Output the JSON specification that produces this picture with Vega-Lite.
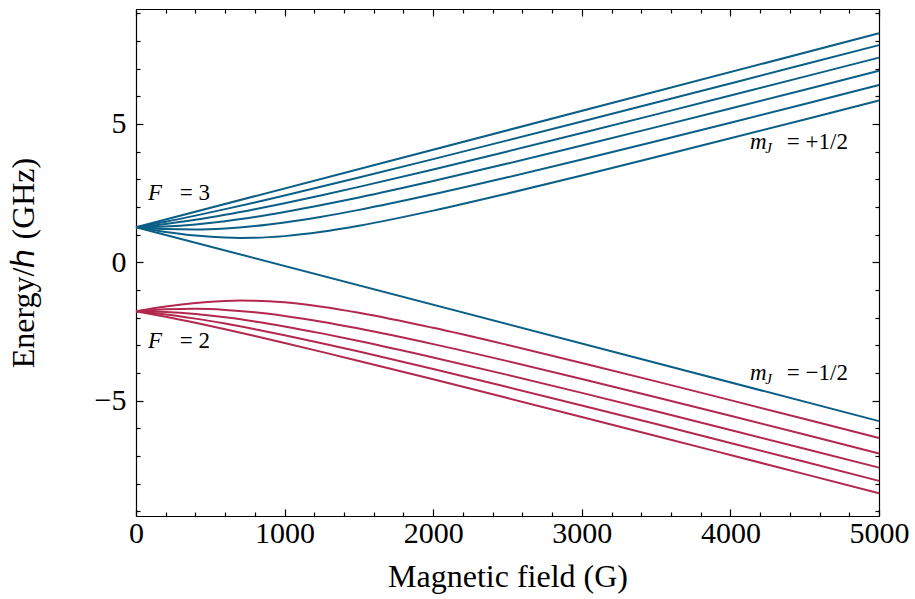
{
  "$schema": "https://vega.github.io/schema/vega-lite/v6.json",
  "width": 743,
  "height": 507,
  "autosize": {"type": "none"},
  "padding": {"left": 136, "top": 9, "right": 36, "bottom": 83},
  "background": "white",
  "config": {
    "view": {"stroke": null},
    "axis": {
      "grid": false,
      "domainColor": "black",
      "domainWidth": 1.2,
      "tickColor": "black",
      "tickWidth": 1.2,
      "labelColor": "black",
      "titleColor": "black",
      "labelFont": "Liberation Serif",
      "titleFont": "Liberation Serif",
      "labelFontSize": 30,
      "titleFontSize": 32,
      "titleFontWeight": "normal",
      "labelFlush": false,
      "labelOverlap": false,
      "format": "d"
    },
    "text": {"font": "Liberation Serif", "fontSize": 23, "color": "black", "align": "left", "baseline": "alphabetic"}
  },
  "datasets": {
    "curves": [
      {"s": "F3+3", "F": "F3", "B": 0, "E": 1.265}, {"s": "F3+3", "F": "F3", "B": 5000, "E": 8.271},
      {"s": "F3+2", "F": "F3", "B": 0, "E": 1.265}, {"s": "F3+2", "F": "F3", "B": 200, "E": 1.464}, {"s": "F3+2", "F": "F3", "B": 400, "E": 1.684}, {"s": "F3+2", "F": "F3", "B": 600, "E": 1.918}, {"s": "F3+2", "F": "F3", "B": 800, "E": 2.161}, {"s": "F3+2", "F": "F3", "B": 1000, "E": 2.412}, {"s": "F3+2", "F": "F3", "B": 1250, "E": 2.733}, {"s": "F3+2", "F": "F3", "B": 1500, "E": 3.060}, {"s": "F3+2", "F": "F3", "B": 2000, "E": 3.726}, {"s": "F3+2", "F": "F3", "B": 2500, "E": 4.402}, {"s": "F3+2", "F": "F3", "B": 3000, "E": 5.084}, {"s": "F3+2", "F": "F3", "B": 3500, "E": 5.770}, {"s": "F3+2", "F": "F3", "B": 4000, "E": 6.460}, {"s": "F3+2", "F": "F3", "B": 4500, "E": 7.151}, {"s": "F3+2", "F": "F3", "B": 5000, "E": 7.844},
      {"s": "F3+1", "F": "F3", "B": 0, "E": 1.265}, {"s": "F3+1", "F": "F3", "B": 200, "E": 1.380}, {"s": "F3+1", "F": "F3", "B": 400, "E": 1.532}, {"s": "F3+1", "F": "F3", "B": 600, "E": 1.712}, {"s": "F3+1", "F": "F3", "B": 800, "E": 1.914}, {"s": "F3+1", "F": "F3", "B": 1000, "E": 2.131}, {"s": "F3+1", "F": "F3", "B": 1250, "E": 2.420}, {"s": "F3+1", "F": "F3", "B": 1500, "E": 2.722}, {"s": "F3+1", "F": "F3", "B": 2000, "E": 3.352}, {"s": "F3+1", "F": "F3", "B": 2500, "E": 4.004}, {"s": "F3+1", "F": "F3", "B": 3000, "E": 4.669}, {"s": "F3+1", "F": "F3", "B": 3500, "E": 5.343}, {"s": "F3+1", "F": "F3", "B": 4000, "E": 6.023}, {"s": "F3+1", "F": "F3", "B": 4500, "E": 6.707}, {"s": "F3+1", "F": "F3", "B": 5000, "E": 7.394},
      {"s": "F3+0", "F": "F3", "B": 0, "E": 1.265}, {"s": "F3+0", "F": "F3", "B": 200, "E": 1.291}, {"s": "F3+0", "F": "F3", "B": 400, "E": 1.365}, {"s": "F3+0", "F": "F3", "B": 600, "E": 1.482}, {"s": "F3+0", "F": "F3", "B": 800, "E": 1.634}, {"s": "F3+0", "F": "F3", "B": 1000, "E": 1.813}, {"s": "F3+0", "F": "F3", "B": 1250, "E": 2.065}, {"s": "F3+0", "F": "F3", "B": 1500, "E": 2.340}, {"s": "F3+0", "F": "F3", "B": 2000, "E": 2.934}, {"s": "F3+0", "F": "F3", "B": 2500, "E": 3.565}, {"s": "F3+0", "F": "F3", "B": 3000, "E": 4.216}, {"s": "F3+0", "F": "F3", "B": 3500, "E": 4.881}, {"s": "F3+0", "F": "F3", "B": 4000, "E": 5.554}, {"s": "F3+0", "F": "F3", "B": 4500, "E": 6.233}, {"s": "F3+0", "F": "F3", "B": 5000, "E": 6.916},
      {"s": "F3-1", "F": "F3", "B": 0, "E": 1.265}, {"s": "F3-1", "F": "F3", "B": 200, "E": 1.196}, {"s": "F3-1", "F": "F3", "B": 400, "E": 1.179}, {"s": "F3-1", "F": "F3", "B": 600, "E": 1.217}, {"s": "F3-1", "F": "F3", "B": 800, "E": 1.305}, {"s": "F3-1", "F": "F3", "B": 1000, "E": 1.435}, {"s": "F3-1", "F": "F3", "B": 1250, "E": 1.644}, {"s": "F3-1", "F": "F3", "B": 1500, "E": 1.891}, {"s": "F3-1", "F": "F3", "B": 2000, "E": 2.453}, {"s": "F3-1", "F": "F3", "B": 2500, "E": 3.068}, {"s": "F3-1", "F": "F3", "B": 3000, "E": 3.712}, {"s": "F3-1", "F": "F3", "B": 3500, "E": 4.372}, {"s": "F3-1", "F": "F3", "B": 4000, "E": 5.043}, {"s": "F3-1", "F": "F3", "B": 4500, "E": 5.720}, {"s": "F3-1", "F": "F3", "B": 5000, "E": 6.403},
      {"s": "F3-2", "F": "F3", "B": 0, "E": 1.265}, {"s": "F3-2", "F": "F3", "B": 200, "E": 1.094}, {"s": "F3-2", "F": "F3", "B": 400, "E": 0.965}, {"s": "F3-2", "F": "F3", "B": 600, "E": 0.891}, {"s": "F3-2", "F": "F3", "B": 700, "E": 0.879}, {"s": "F3-2", "F": "F3", "B": 800, "E": 0.884}, {"s": "F3-2", "F": "F3", "B": 1000, "E": 0.943}, {"s": "F3-2", "F": "F3", "B": 1250, "E": 1.099}, {"s": "F3-2", "F": "F3", "B": 1500, "E": 1.318}, {"s": "F3-2", "F": "F3", "B": 2000, "E": 1.865}, {"s": "F3-2", "F": "F3", "B": 2500, "E": 2.483}, {"s": "F3-2", "F": "F3", "B": 3000, "E": 3.133}, {"s": "F3-2", "F": "F3", "B": 3500, "E": 3.800}, {"s": "F3-2", "F": "F3", "B": 4000, "E": 4.477}, {"s": "F3-2", "F": "F3", "B": 4500, "E": 5.160}, {"s": "F3-2", "F": "F3", "B": 5000, "E": 5.847},
      {"s": "F3-3", "F": "F3", "B": 0, "E": 1.265}, {"s": "F3-3", "F": "F3", "B": 5000, "E": -5.741},
      {"s": "F2+2", "F": "F2", "B": 0, "E": -1.771}, {"s": "F2+2", "F": "F2", "B": 200, "E": -1.970}, {"s": "F2+2", "F": "F2", "B": 400, "E": -2.190}, {"s": "F2+2", "F": "F2", "B": 600, "E": -2.424}, {"s": "F2+2", "F": "F2", "B": 800, "E": -2.667}, {"s": "F2+2", "F": "F2", "B": 1000, "E": -2.918}, {"s": "F2+2", "F": "F2", "B": 1250, "E": -3.239}, {"s": "F2+2", "F": "F2", "B": 1500, "E": -3.566}, {"s": "F2+2", "F": "F2", "B": 2000, "E": -4.232}, {"s": "F2+2", "F": "F2", "B": 2500, "E": -4.908}, {"s": "F2+2", "F": "F2", "B": 3000, "E": -5.590}, {"s": "F2+2", "F": "F2", "B": 3500, "E": -6.276}, {"s": "F2+2", "F": "F2", "B": 4000, "E": -6.966}, {"s": "F2+2", "F": "F2", "B": 4500, "E": -7.657}, {"s": "F2+2", "F": "F2", "B": 5000, "E": -8.350},
      {"s": "F2+1", "F": "F2", "B": 0, "E": -1.771}, {"s": "F2+1", "F": "F2", "B": 200, "E": -1.886}, {"s": "F2+1", "F": "F2", "B": 400, "E": -2.038}, {"s": "F2+1", "F": "F2", "B": 600, "E": -2.218}, {"s": "F2+1", "F": "F2", "B": 800, "E": -2.420}, {"s": "F2+1", "F": "F2", "B": 1000, "E": -2.637}, {"s": "F2+1", "F": "F2", "B": 1250, "E": -2.926}, {"s": "F2+1", "F": "F2", "B": 1500, "E": -3.228}, {"s": "F2+1", "F": "F2", "B": 2000, "E": -3.858}, {"s": "F2+1", "F": "F2", "B": 2500, "E": -4.510}, {"s": "F2+1", "F": "F2", "B": 3000, "E": -5.175}, {"s": "F2+1", "F": "F2", "B": 3500, "E": -5.849}, {"s": "F2+1", "F": "F2", "B": 4000, "E": -6.529}, {"s": "F2+1", "F": "F2", "B": 4500, "E": -7.213}, {"s": "F2+1", "F": "F2", "B": 5000, "E": -7.900},
      {"s": "F2+0", "F": "F2", "B": 0, "E": -1.771}, {"s": "F2+0", "F": "F2", "B": 200, "E": -1.796}, {"s": "F2+0", "F": "F2", "B": 400, "E": -1.871}, {"s": "F2+0", "F": "F2", "B": 600, "E": -1.988}, {"s": "F2+0", "F": "F2", "B": 800, "E": -2.140}, {"s": "F2+0", "F": "F2", "B": 1000, "E": -2.319}, {"s": "F2+0", "F": "F2", "B": 1250, "E": -2.571}, {"s": "F2+0", "F": "F2", "B": 1500, "E": -2.846}, {"s": "F2+0", "F": "F2", "B": 2000, "E": -3.440}, {"s": "F2+0", "F": "F2", "B": 2500, "E": -4.071}, {"s": "F2+0", "F": "F2", "B": 3000, "E": -4.722}, {"s": "F2+0", "F": "F2", "B": 3500, "E": -5.387}, {"s": "F2+0", "F": "F2", "B": 4000, "E": -6.060}, {"s": "F2+0", "F": "F2", "B": 4500, "E": -6.739}, {"s": "F2+0", "F": "F2", "B": 5000, "E": -7.422},
      {"s": "F2-1", "F": "F2", "B": 0, "E": -1.771}, {"s": "F2-1", "F": "F2", "B": 200, "E": -1.702}, {"s": "F2-1", "F": "F2", "B": 400, "E": -1.685}, {"s": "F2-1", "F": "F2", "B": 600, "E": -1.723}, {"s": "F2-1", "F": "F2", "B": 800, "E": -1.811}, {"s": "F2-1", "F": "F2", "B": 1000, "E": -1.941}, {"s": "F2-1", "F": "F2", "B": 1250, "E": -2.150}, {"s": "F2-1", "F": "F2", "B": 1500, "E": -2.397}, {"s": "F2-1", "F": "F2", "B": 2000, "E": -2.959}, {"s": "F2-1", "F": "F2", "B": 2500, "E": -3.574}, {"s": "F2-1", "F": "F2", "B": 3000, "E": -4.218}, {"s": "F2-1", "F": "F2", "B": 3500, "E": -4.878}, {"s": "F2-1", "F": "F2", "B": 4000, "E": -5.549}, {"s": "F2-1", "F": "F2", "B": 4500, "E": -6.226}, {"s": "F2-1", "F": "F2", "B": 5000, "E": -6.909},
      {"s": "F2-2", "F": "F2", "B": 0, "E": -1.771}, {"s": "F2-2", "F": "F2", "B": 200, "E": -1.600}, {"s": "F2-2", "F": "F2", "B": 400, "E": -1.471}, {"s": "F2-2", "F": "F2", "B": 600, "E": -1.397}, {"s": "F2-2", "F": "F2", "B": 700, "E": -1.385}, {"s": "F2-2", "F": "F2", "B": 800, "E": -1.390}, {"s": "F2-2", "F": "F2", "B": 1000, "E": -1.449}, {"s": "F2-2", "F": "F2", "B": 1250, "E": -1.605}, {"s": "F2-2", "F": "F2", "B": 1500, "E": -1.824}, {"s": "F2-2", "F": "F2", "B": 2000, "E": -2.371}, {"s": "F2-2", "F": "F2", "B": 2500, "E": -2.989}, {"s": "F2-2", "F": "F2", "B": 3000, "E": -3.639}, {"s": "F2-2", "F": "F2", "B": 3500, "E": -4.306}, {"s": "F2-2", "F": "F2", "B": 4000, "E": -4.983}, {"s": "F2-2", "F": "F2", "B": 4500, "E": -5.666}, {"s": "F2-2", "F": "F2", "B": 5000, "E": -6.353}
    ],
    "ann": [
      {"p": "F", "t": "F", "B": 81, "E": 2.25},
      {"p": "eq", "t": "= 3", "B": 295, "E": 2.25},
      {"p": "F", "t": "F", "B": 81, "E": -3.1},
      {"p": "eq", "t": "= 2", "B": 295, "E": -3.1},
      {"p": "m", "t": "m", "B": 4132, "E": 4.08},
      {"p": "J", "t": "J", "B": 4235, "E": 4.08},
      {"p": "eq", "t": "= +1/2", "B": 4380, "E": 4.08},
      {"p": "m", "t": "m", "B": 4132, "E": -4.25},
      {"p": "J", "t": "J", "B": 4235, "E": -4.25},
      {"p": "eq", "t": "= −1/2", "B": 4380, "E": -4.25}
    ]
  },
  "resolve": {"axis": {"x": "independent", "y": "independent"}},
  "layer": [
    {
      "data": {"name": "curves"},
      "mark": {"type": "line", "strokeWidth": 2, "interpolate": "monotone"},
      "encoding": {
        "x": {"field": "B", "type": "quantitative", "scale": {"domain": [0, 5000], "nice": false, "zero": false},
          "axis": {"orient": "bottom", "values": [0, 1000, 2000, 3000, 4000, 5000], "tickSize": -7, "labelPadding": 9, "title": "Magnetic field (G)", "titlePadding": 13}},
        "y": {"field": "E", "type": "quantitative", "scale": {"domain": [-9.17, 9.15], "nice": false, "zero": false},
          "axis": {"orient": "left", "values": [-5, 0, 5], "tickSize": -7, "labelPadding": 17, "title": "Energy/ℎ  (GHz)", "titlePadding": 54}},
        "color": {"field": "F", "type": "nominal", "scale": {"domain": ["F3", "F2"], "range": ["#0b5f86", "#b2284e"]}, "legend": null},
        "detail": {"field": "s"}
      }
    },
    {
      "data": {"name": "ann"},
      "transform": [{"filter": "datum.p == 'F'"}],
      "mark": {"type": "text", "fontStyle": "italic"},
      "encoding": {
        "x": {"field": "B", "type": "quantitative", "scale": {"domain": [0, 5000], "nice": false, "zero": false},
          "axis": {"orient": "top", "values": [0, 1000, 2000, 3000, 4000, 5000], "tickSize": -7, "labels": false, "title": null}},
        "y": {"field": "E", "type": "quantitative", "scale": {"domain": [-9.17, 9.15], "nice": false, "zero": false},
          "axis": {"orient": "right", "values": [-5, 0, 5], "tickSize": -7, "labels": false, "title": null}},
        "text": {"field": "t"}
      }
    },
    {
      "data": {"name": "ann"},
      "transform": [{"filter": "datum.p == 'eq'"}],
      "mark": {"type": "text"},
      "encoding": {
        "x": {"field": "B", "type": "quantitative", "scale": {"domain": [0, 5000], "nice": false, "zero": false},
          "axis": {"orient": "bottom", "values": [200, 400, 600, 800, 1200, 1400, 1600, 1800, 2200, 2400, 2600, 2800, 3200, 3400, 3600, 3800, 4200, 4400, 4600, 4800], "tickSize": -4, "labels": false, "domain": false, "title": null}},
        "y": {"field": "E", "type": "quantitative", "scale": {"domain": [-9.17, 9.15], "nice": false, "zero": false},
          "axis": {"orient": "left", "values": [-9, -8, -7, -6, -4, -3, -2, -1, 1, 2, 3, 4, 6, 7, 8, 9], "tickSize": -4, "labels": false, "domain": false, "title": null}},
        "text": {"field": "t"}
      }
    },
    {
      "data": {"name": "ann"},
      "transform": [{"filter": "datum.p == 'm'"}],
      "mark": {"type": "text", "fontStyle": "italic"},
      "encoding": {
        "x": {"field": "B", "type": "quantitative", "scale": {"domain": [0, 5000], "nice": false, "zero": false},
          "axis": {"orient": "top", "values": [200, 400, 600, 800, 1200, 1400, 1600, 1800, 2200, 2400, 2600, 2800, 3200, 3400, 3600, 3800, 4200, 4400, 4600, 4800], "tickSize": -4, "labels": false, "domain": false, "title": null}},
        "y": {"field": "E", "type": "quantitative", "scale": {"domain": [-9.17, 9.15], "nice": false, "zero": false},
          "axis": {"orient": "right", "values": [-9, -8, -7, -6, -4, -3, -2, -1, 1, 2, 3, 4, 6, 7, 8, 9], "tickSize": -4, "labels": false, "domain": false, "title": null}},
        "text": {"field": "t"}
      }
    },
    {
      "data": {"name": "ann"},
      "transform": [{"filter": "datum.p == 'J'"}],
      "mark": {"type": "text", "fontStyle": "italic", "fontSize": 15, "dy": 4},
      "encoding": {
        "x": {"field": "B", "type": "quantitative", "axis": null},
        "y": {"field": "E", "type": "quantitative", "axis": null},
        "text": {"field": "t"}
      }
    }
  ]
}
